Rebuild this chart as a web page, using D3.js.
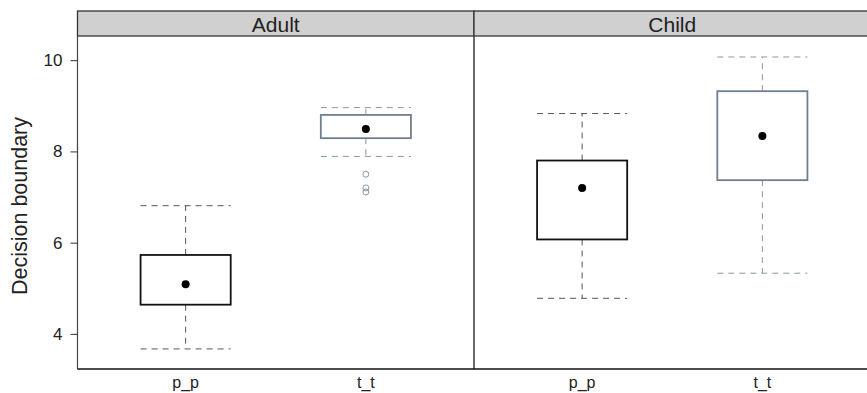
<!DOCTYPE html>
<html>
<head>
<script src="https://cdnjs.cloudflare.com/ajax/libs/d3/7.8.5/d3.min.js"></script>
<style>
  body { margin: 0; background: #fff; }
  text { font-family: "Liberation Sans", Arial, sans-serif; fill: #222; }
</style>
</head>
<body>
<div id="vis"></div>
<script>
// data
const panels = ["Adult", "Child"];
const groups = ["p_p", "t_t"];
// [lowerWhisker, q1, median, q3, upperWhisker] per panel, per group
const adultStats = [[3.67, 4.64, 5.09, 5.73, 6.81], [7.89, 8.29, 8.49, 8.80, 8.96]];
const childStats = [[4.78, 6.07, 7.20, 7.80, 8.83], [5.33, 7.37, 8.34, 9.32, 10.07]];
const adultOutliers = [[], [7.50, 7.20, 7.11]];
const childOutliers = [[], []];
const yTicks = [4, 6, 8, 10];

const W = 867, H = 393;
const padL = 77.5, panelW = 396.5, panelTop = 36, panelBottom = 369, stripTop = 11;
const groupColor = ["#111111", "#6f7f90"];
const whiskColor = ["#555555", "#8a97a5"];

const svg = d3.select("#vis").append("svg").attr("width", W).attr("height", H);

const y = d3.scaleLinear().domain([3.23, 10.53]).range([panelBottom, panelTop]);

const stats = [adultStats, childStats];
const outl = [adultOutliers, childOutliers];

panels.forEach((p, pi) => {
  const x0 = padL + pi * panelW;
  const x = d3.scaleLinear().domain([0.4, 2.6]).range([x0, x0 + panelW]);
  const g = svg.append("g");

  // strip
  g.append("rect").attr("x", x0).attr("y", stripTop).attr("width", panelW).attr("height", panelTop - stripTop)
    .attr("fill", "#d0d0d0").attr("stroke", "#333").attr("stroke-width", 1.3);
  g.append("text").attr("x", x0 + panelW / 2).attr("y", 31.5).attr("text-anchor", "middle")
    .style("font-size", "21px").text(p);

  groups.forEach((grp, gi) => {
    const s = stats[pi][gi];
    const cx = x(gi + 1);
    const hw = x(1.25) - x(1);
    // whiskers (dashed)
    g.append("line").attr("x1", cx).attr("x2", cx).attr("y1", y(s[3])).attr("y2", y(s[4]))
      .attr("stroke", whiskColor[gi]).attr("stroke-dasharray", "6,5");
    g.append("line").attr("x1", cx).attr("x2", cx).attr("y1", y(s[1])).attr("y2", y(s[0]))
      .attr("stroke", whiskColor[gi]).attr("stroke-dasharray", "6,5");
    [s[0], s[4]].forEach(v => {
      g.append("line").attr("x1", cx - hw).attr("x2", cx + hw).attr("y1", y(v)).attr("y2", y(v))
        .attr("stroke", whiskColor[gi]).attr("stroke-dasharray", "6,5");
    });
    // box
    g.append("rect").attr("x", cx - hw).attr("width", 2 * hw)
      .attr("y", y(s[3])).attr("height", y(s[1]) - y(s[3]))
      .attr("fill", "none").attr("stroke", groupColor[gi]).attr("stroke-width", 1.8);
    // median dot
    g.append("circle").attr("cx", cx).attr("cy", y(s[2])).attr("r", 4).attr("fill", "#000");
    // outliers
    g.selectAll(null).data(outl[pi][gi]).join("circle")
      .attr("cx", cx).attr("cy", d => y(d)).attr("r", 3)
      .attr("fill", "none").attr("stroke", "#8a97a5");

    // x label
    g.append("text").attr("x", cx).attr("y", 387.5).attr("text-anchor", "middle")
      .style("font-size", "16px").text(grp);
  });

  // panel border
  g.append("line").attr("x1", x0).attr("x2", x0).attr("y1", panelTop).attr("y2", panelBottom)
    .attr("stroke", "#444").attr("stroke-width", pi === 0 ? 1.2 : 1.6);
});

// bottom line
svg.append("line").attr("x1", padL).attr("x2", W).attr("y1", panelBottom).attr("y2", panelBottom)
  .attr("stroke", "#111").attr("stroke-width", 1.5);

// y axis
const yAxis = d3.axisLeft(y).tickValues(yTicks).tickSize(7).tickPadding(8);
const ag = svg.append("g").attr("transform", `translate(${padL},0)`).call(yAxis);
ag.select(".domain").remove();
ag.selectAll("line").attr("stroke", "#333");
ag.selectAll("text").style("font-size", "17px").attr("fill", "#222")
  .style("font-family", "'Liberation Sans', Arial, sans-serif");

svg.append("text").attr("transform", "translate(27,206) rotate(-90)")
  .attr("text-anchor", "middle").style("font-size", "21.5px").text("Decision boundary");
</script>
</body>
</html>
